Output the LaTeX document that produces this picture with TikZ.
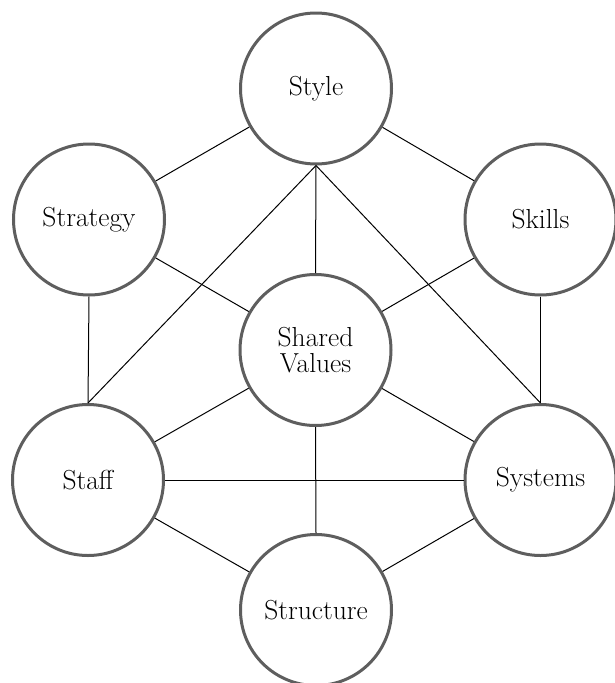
\documentclass[tikz,border=0pt]{standalone}
\begin{document}
\begin{tikzpicture}[x=1pt,y=-1pt,
  sbox/.style={circle,draw=circ,line width=3pt,fill=white,minimum size=151pt,inner sep=0pt,align=center,font=\fontsize{27.5}{26}\selectfont},
  link/.style={draw=black,line width=1pt}]
\definecolor{circ}{HTML}{5E5E5E}
\useasboundingbox (0,0) rectangle (614,683);
\node[sbox] (style) at (316,88.5) {Style};
\node[sbox] (strategy) at (89,219.5) {Strategy};
\node[sbox] (skills) at (540.5,219.5) {Skills};
\node[sbox] (shared) at (315.5,350) {Shared\\Values};
\node[sbox] (staff) at (88,480) {Staff};
\node[sbox] (systems) at (540.5,480) {Systems};
\node[sbox] (structure) at (316,610) {Structure};
\path[link] (style) -- (strategy);
\path[link] (style) -- (skills);
\path[link] (style.south) -- (shared.north);
\path[link] (style.south) -- (staff.north);
\path[link] (style.south) -- (systems.north);
\path[link] (strategy.south) -- (staff.north);
\path[link] (skills.south) -- (systems.north);
\path[link] (strategy) -- (shared);
\path[link] (skills) -- (shared);
\path[link] (shared) -- (staff);
\path[link] (shared) -- (systems);
\path[link] (shared.south) -- (structure.north);
\path[link] (staff.east) -- (systems.west);
\path[link] (staff) -- (structure);
\path[link] (systems) -- (structure);
\end{tikzpicture}
\end{document}
